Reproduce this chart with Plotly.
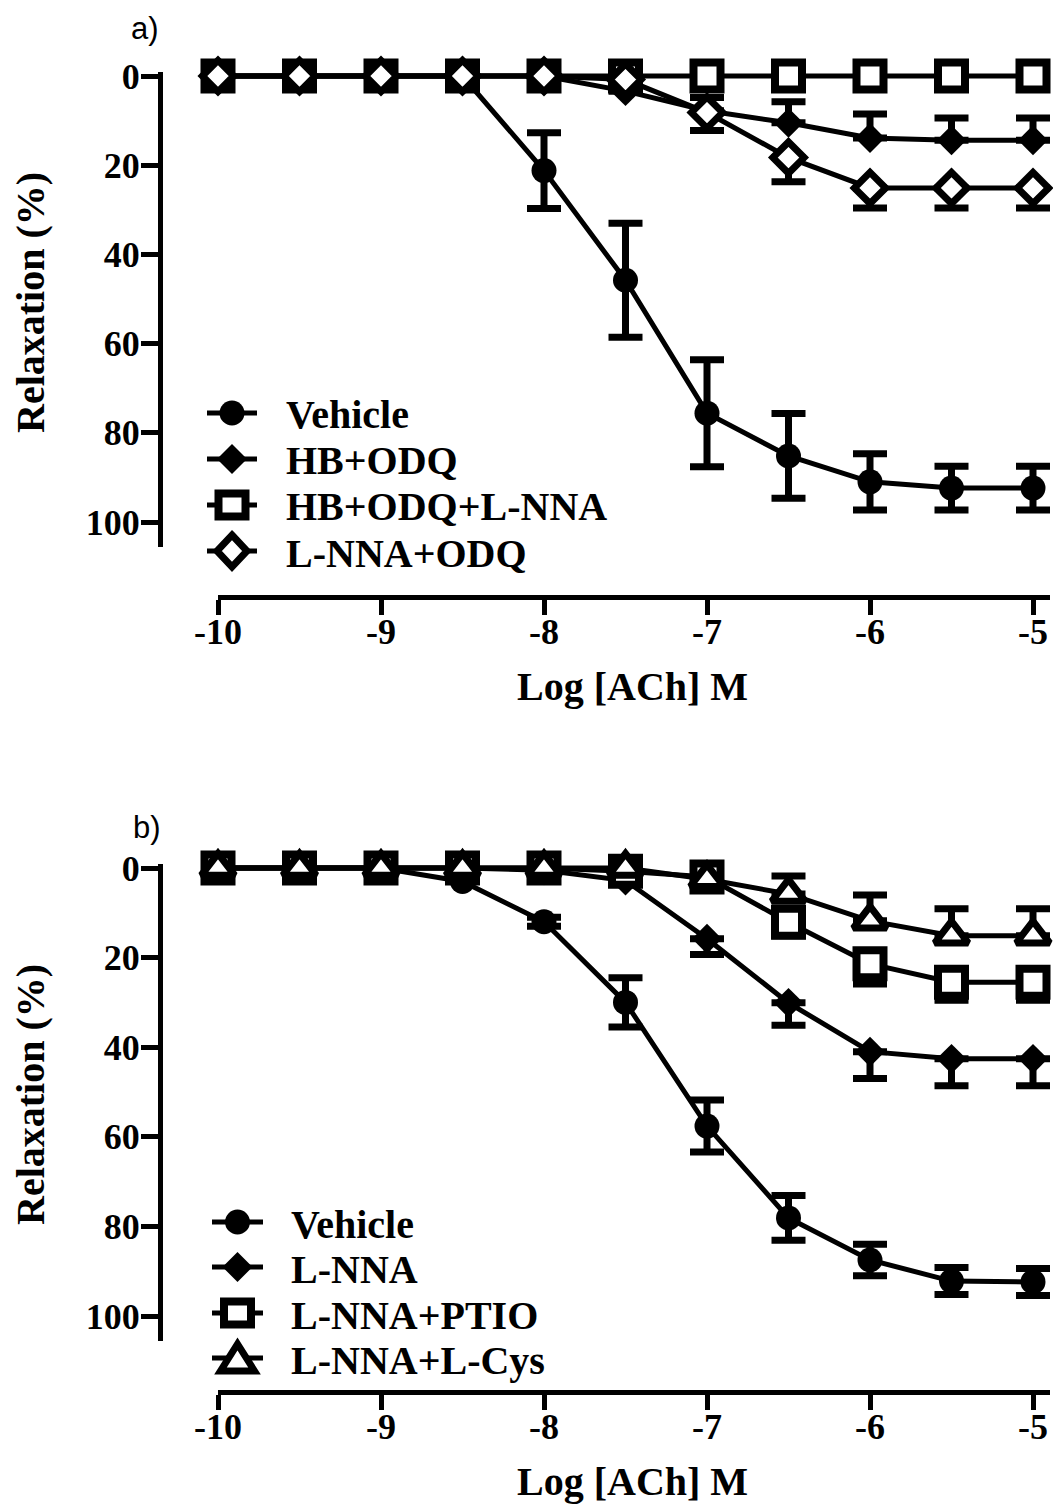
import plotly.graph_objects as go

W, H = 1053, 1506

# ---------------- data ----------------
log_ach = [-10, -9.5, -9, -8.5, -8, -7.5, -7, -6.5, -6, -5.5, -5]

# panel a
a_names = ["Vehicle", "HB+ODQ", "HB+ODQ+L-NNA", "L-NNA+ODQ"]
a_vehicle = [0, 0, 0, 0, 21.2, 45.8, 75.6, 85.2, 91.0, 92.4, 92.4]
a_vehicle_err = [0, 0, 0, 0, 8.5, 12.8, 12.0, 9.5, 6.3, 4.9, 4.9]
a_hbodq = [0, 0, 0, 0, 0, 3.4, 7.8, 10.5, 13.9, 14.4, 14.4]
a_hbodq_err = [0, 0, 0, 0, 0, 0, 3.0, 4.7, 5.4, 5.0, 5.0]          # drawn upward
a_hbodq_lnna = [0, 0, 0, 0, 0, 0, 0, 0, 0, 0, 0]
a_lnna_odq = [0, 0, 0, 0, 0, 0.8, 8.2, 18.3, 25.1, 25.1, 25.1]
a_lnna_odq_err = [0, 0, 0, 0, 0, 0, 4.0, 5.4, 4.5, 4.5, 4.5]      # drawn downward

# panel b
b_names = ["Vehicle", "L-NNA", "L-NNA+PTIO", "L-NNA+L-Cys"]
b_vehicle = [0, 0, 0, 3.0, 12.0, 30.0, 57.6, 78.1, 87.5, 92.2, 92.4]
b_vehicle_err = [0, 0, 0, 0, 1.0, 5.5, 5.8, 5.0, 3.5, 3.0, 3.0]
b_lnna = [0, 0, 0, 0, 0.5, 2.8, 15.8, 30.1, 41.0, 42.6, 42.6]
b_lnna_err = [0, 0, 0, 0, 0, 0, 3.5, 5.0, 6.0, 6.0, 6.0]           # downward
b_ptio = [0, 0, 0, 0, 0, 0.7, 2.0, 12.1, 21.4, 25.5, 25.5]
b_ptio_err = [0, 0, 0, 0, 0, 0, 0, 3.0, 4.5, 4.0, 4.0]             # downward
b_lcys = [0, 0, 0, 0, 0, 0, 2.5, 5.8, 11.8, 15.1, 15.1]
b_lcys_err = [0, 0, 0, 0, 0, 0, 0, 4.0, 5.8, 6.0, 6.0]             # upward

x_ticks = [-10, -9, -8, -7, -6, -5]
x_ticklabels = ["-10", "-9", "-8", "-7", "-6", "-5"]
y_ticks = [0, 20, 40, 60, 80, 100]
y_ticklabels = ["0", "20", "40", "60", "80", "100"]
x_title = "Log [ACh] M"
y_title = "Relaxation (%)"
panel_labels = ["a)", "b)"]

# ---------------- style ----------------
SERIF = "Liberation Serif"
SANS = "Liberation Sans"
LW = 5
EB_T = 7
EB_W = 17

STYLES = {
    "circle": dict(symbol="circle", size=25, color="black", line=dict(width=0, color="black")),
    "diamond": dict(symbol="diamond", size=23, color="black", line=dict(width=0, color="black")),
    "square_open": dict(symbol="square", size=27, color="white", line=dict(width=8, color="black")),
    "diamond_open": dict(symbol="diamond", size=24, color="white", line=dict(width=7, color="black")),
    "triangle_open": dict(symbol="triangle-up", size=29, color="white", line=dict(width=7, color="black")),
}


def px_x(p):
    return p / W


def px_y(p):
    return 1 - p / H


fig = go.Figure()


def add_series(y, err, mode, style, xa, ya):
    if mode == "both":
        ey = dict(type="data", array=err, symmetric=True, thickness=EB_T, width=EB_W, color="black")
    elif mode == "down":
        ey = dict(type="data", array=err, arrayminus=[0] * len(err), symmetric=False,
                  thickness=EB_T, width=EB_W, color="black")
    elif mode == "up":
        ey = dict(type="data", array=[0] * len(err), arrayminus=err, symmetric=False,
                  thickness=EB_T, width=EB_W, color="black")
    else:
        ey = None
    fig.add_trace(go.Scatter(
        x=log_ach, y=y, mode="lines+markers", xaxis=xa, yaxis=ya,
        line=dict(color="black", width=LW), marker=STYLES[style],
        error_y=ey, cliponaxis=False, showlegend=False,
    ))


# panel a series (order = stacking)
add_series(a_vehicle, a_vehicle_err, "both", "circle", "x", "y")
add_series(a_hbodq, a_hbodq_err, "up", "diamond", "x", "y")
add_series(a_hbodq_lnna, None, None, "square_open", "x", "y")
add_series(a_lnna_odq, a_lnna_odq_err, "down", "diamond_open", "x", "y")

# panel b series
add_series(b_vehicle, b_vehicle_err, "both", "circle", "x2", "y2")
add_series(b_lnna, b_lnna_err, "down", "diamond", "x2", "y2")
add_series(b_ptio, b_ptio_err, "down", "square_open", "x2", "y2")
add_series(b_lcys, b_lcys_err, "up", "triangle_open", "x2", "y2")

# ---------------- axes ----------------
tick_font = dict(family=SERIF, size=36, color="black", weight="bold")
X_LEFT_PX, X_RIGHT_PX, YAXIS_X_PX = 218, 1050, 160
x_range = [-10, -5 + (X_RIGHT_PX - 1033) / 163.0]


def axis_pair(top, bottom, xline, zero_px, unit_px):
    xa = dict(domain=[px_x(X_LEFT_PX), px_x(X_RIGHT_PX)], range=x_range,
              anchor="free", position=px_y(xline), automargin=False,
              tickvals=x_ticks, ticktext=x_ticklabels, ticks="outside", ticklen=15,
              ticklabelstandoff=-14,
              tickwidth=LW, tickcolor="black", showline=True, linewidth=LW, linecolor="black",
              showgrid=False, zeroline=False, tickfont=tick_font, fixedrange=True)
    y_top = (top - zero_px) / unit_px
    y_bot = (bottom - zero_px) / unit_px
    ya = dict(domain=[px_y(bottom), px_y(top)], range=[y_bot, y_top],
              anchor="free", position=px_x(YAXIS_X_PX), automargin=False,
              tickvals=y_ticks, ticktext=y_ticklabels, ticks="outside", ticklen=17,
              ticklabelstandoff=-6,
              tickwidth=LW, tickcolor="black", showline=True, linewidth=LW, linecolor="black",
              showgrid=False, zeroline=False, tickfont=tick_font, fixedrange=True)
    return xa, ya


xa1, ya1 = axis_pair(72, 547, 597, 76, 4.46)
xa2, ya2 = axis_pair(864, 1341, 1392, 868, 4.48)

# ---------------- texts ----------------
annotations = []
title_font = dict(family=SERIF, size=40, color="black", weight="bold")
for xt_y, yt_y in [(686, 303), (1481, 1095)]:
    annotations.append(dict(text=x_title, x=px_x(632), y=px_y(xt_y), xref="paper", yref="paper",
                            xanchor="center", yanchor="middle", showarrow=False, font=title_font))
    annotations.append(dict(text=y_title, x=px_x(30), y=px_y(yt_y), xref="paper", yref="paper",
                            xanchor="center", yanchor="middle", textangle=-90, showarrow=False,
                            font=title_font))
for lab, (lx, ly) in zip(panel_labels, [(145, 29), (147, 828)]):
    annotations.append(dict(text=lab, x=px_x(lx), y=px_y(ly), xref="paper", yref="paper",
                            xanchor="center", yanchor="middle", showarrow=False,
                            font=dict(family=SANS, size=31, color="black")))

# ---------------- legends (drawn as layout keys) ----------------
shapes = []
legend_font = dict(family=SERIF, size=40, color="black", weight="bold")


def key_shape(kind, cx, cy):
    base = dict(xref="paper", yref="paper", xsizemode="pixel", ysizemode="pixel",
                xanchor=px_x(cx), yanchor=px_y(cy), layer="above")
    if kind == "circle":
        return dict(type="circle", x0=-12.5, x1=12.5, y0=-12.5, y1=12.5,
                    fillcolor="black", line=dict(width=0), **base)
    if kind == "diamond":
        return dict(type="path", path="M0,15 L15,0 L0,-15 L-15,0 Z",
                    fillcolor="black", line=dict(width=0), **base)
    if kind == "square_open":
        return dict(type="rect", x0=-13.5, x1=13.5, y0=-11.5, y1=11.5,
                    fillcolor="white", line=dict(width=8, color="black"), **base)
    if kind == "diamond_open":
        return dict(type="path", path="M0,16 L15,0 L0,-16 L-15,0 Z",
                    fillcolor="white", line=dict(width=7, color="black"), **base)
    if kind == "triangle_open":
        return dict(type="path", path="M-17,-13 L17,-13 L0,14 Z",
                    fillcolor="white", line=dict(width=7, color="black"), **base)


legend_specs = [
    (a_names, ["circle", "diamond", "square_open", "diamond_open"], [413, 459, 505, 551], 207, 257, 284),
    (b_names, ["circle", "diamond", "square_open", "triangle_open"], [1222, 1267, 1313, 1358], 212, 263, 289),
]
for names, kinds, rows, l0, l1, tx in legend_specs:
    for name, kind, ry in zip(names, kinds, rows):
        shapes.append(dict(type="line", xref="paper", yref="paper", x0=px_x(l0), x1=px_x(l1),
                           y0=px_y(ry), y1=px_y(ry), line=dict(color="black", width=LW), layer="above"))
        shapes.append(key_shape(kind, (l0 + l1) / 2, ry))
        annotations.append(dict(text=name, x=px_x(tx), y=px_y(ry + 2), xref="paper", yref="paper",
                                xanchor="left", yanchor="middle", showarrow=False, font=legend_font))

fig.update_layout(
    template="none",
    width=W, height=H, autosize=False,
    margin=dict(l=0, r=0, t=0, b=0, autoexpand=False),
    paper_bgcolor="white", plot_bgcolor="white",
    xaxis=xa1, yaxis=ya1, xaxis2=xa2, yaxis2=ya2,
    annotations=annotations, shapes=shapes, showlegend=False,
)

# remove the browser's default 8px page margin so the figure fills the window exactly
fig.write_html("out.html", config={"displayModeBar": False},
               post_script="document.body.style.margin='0px';document.body.style.overflow='hidden';")
